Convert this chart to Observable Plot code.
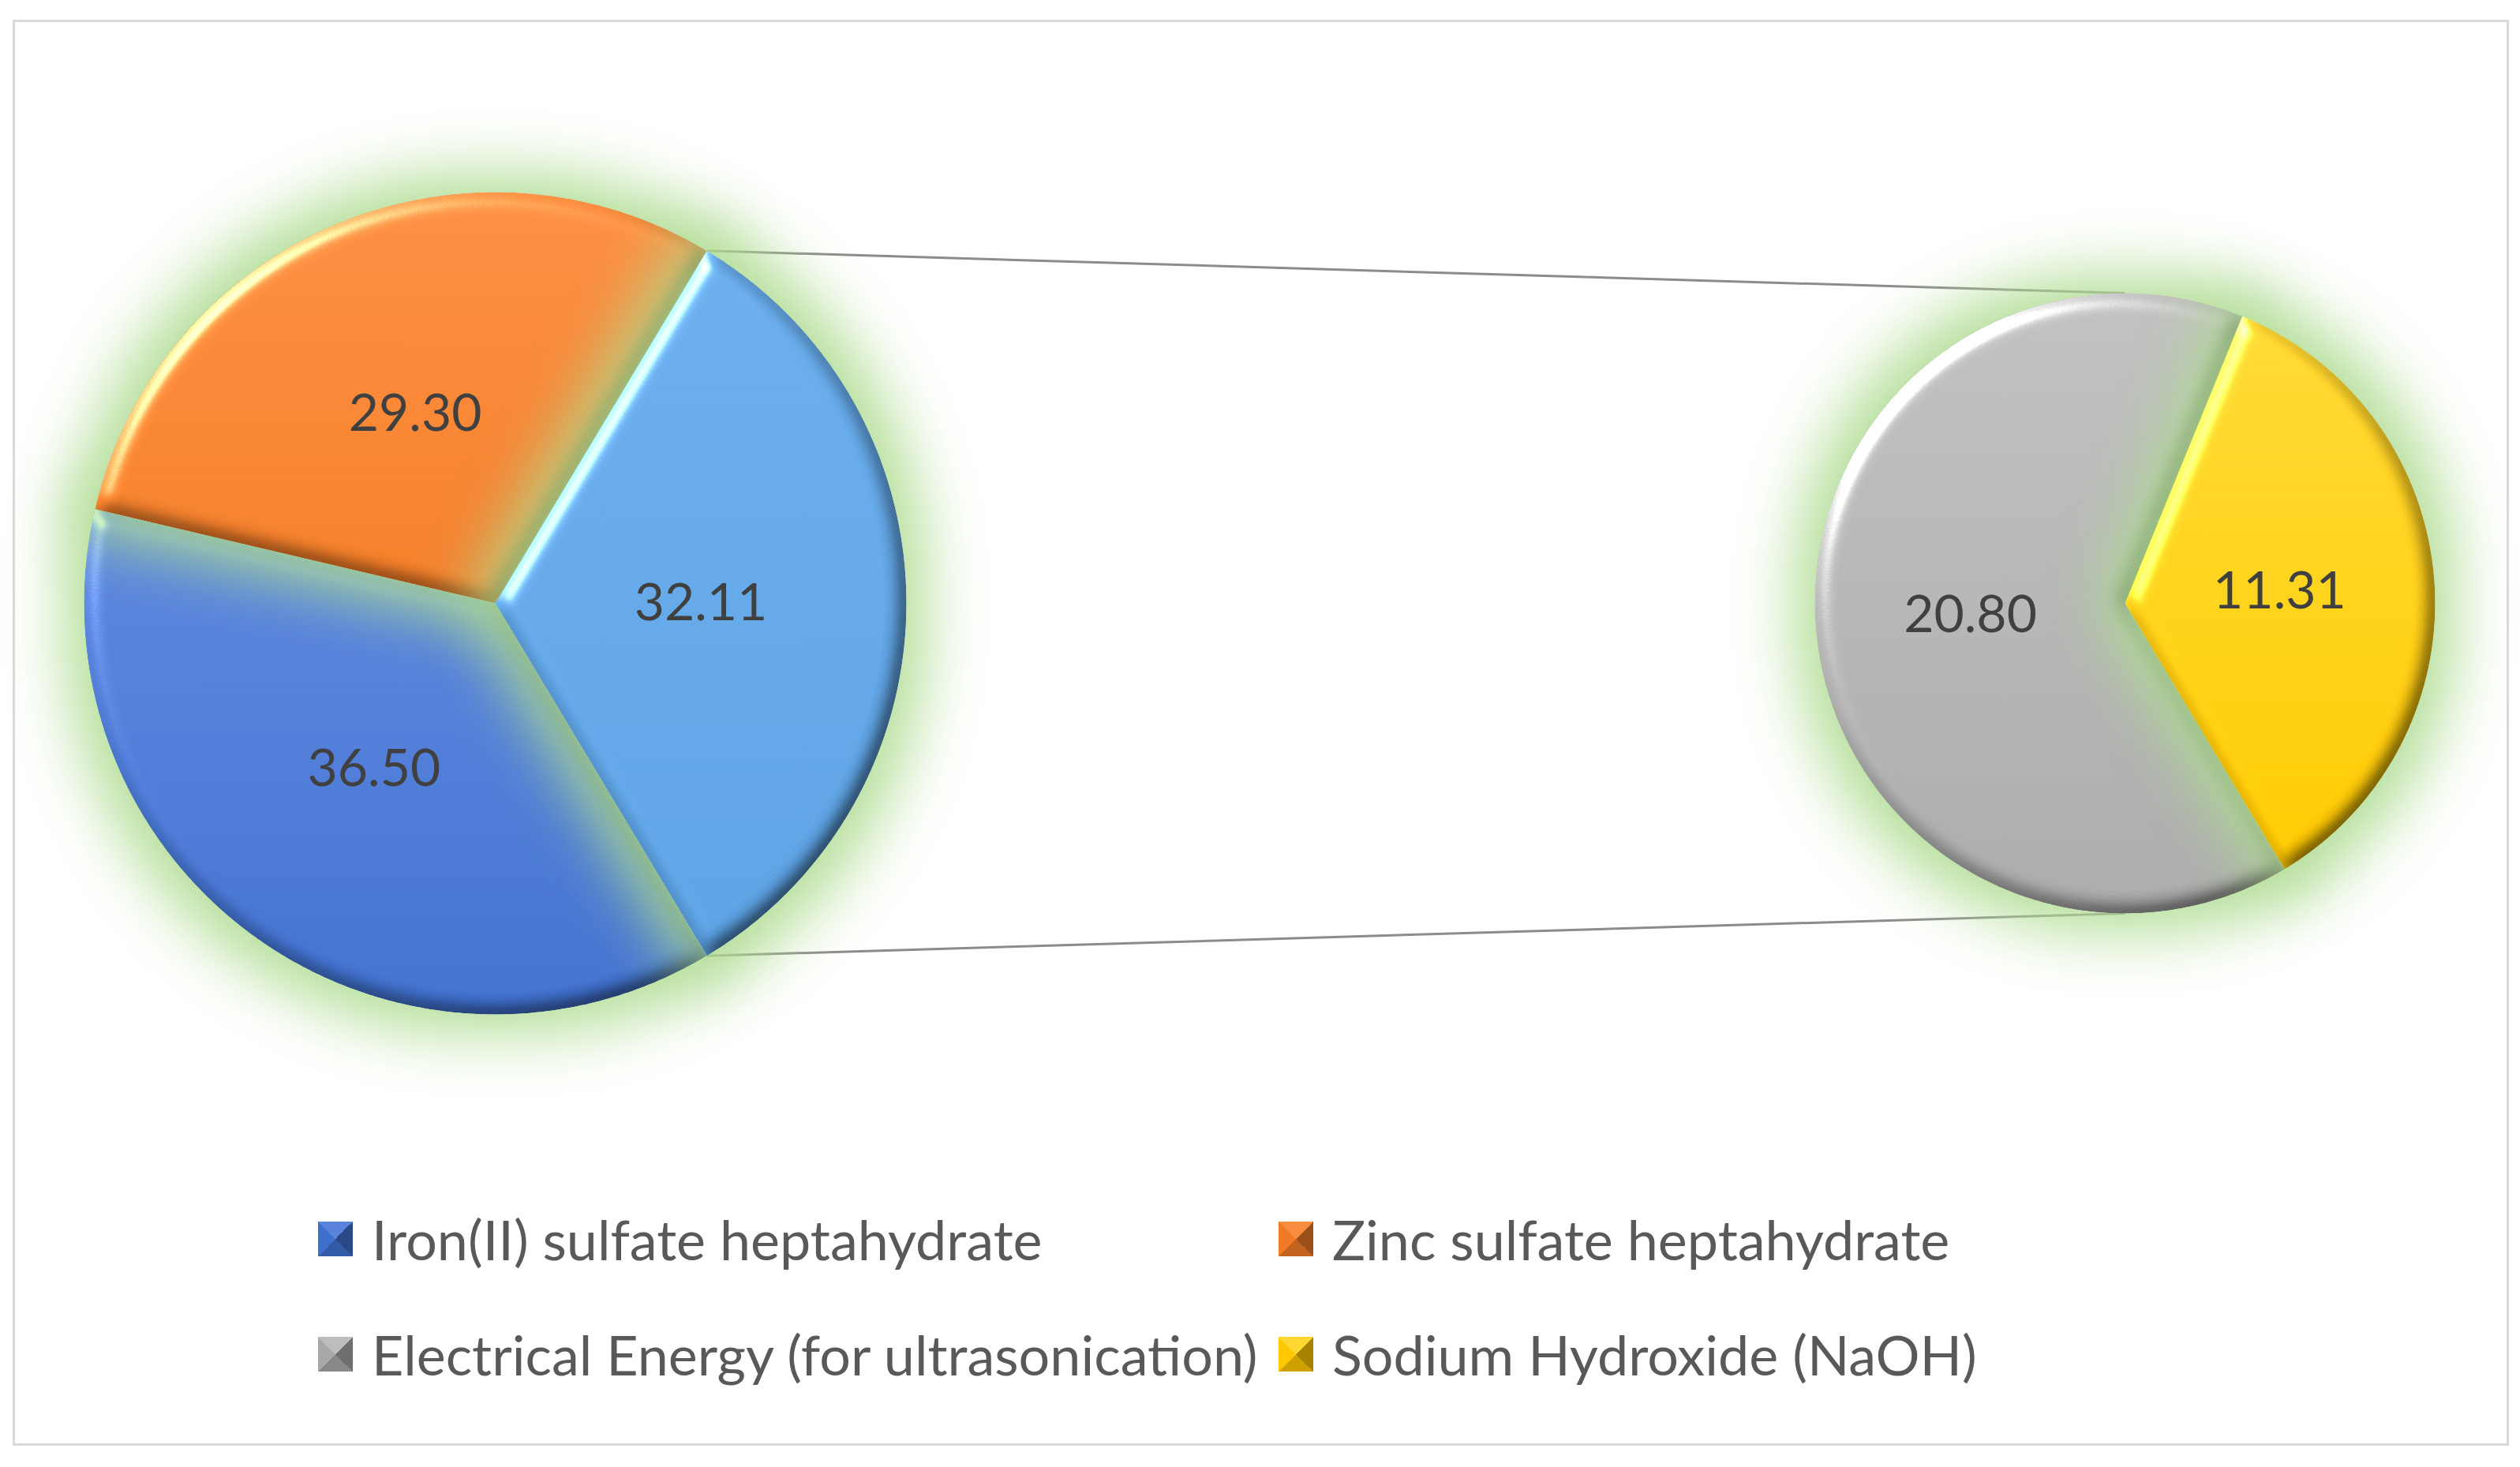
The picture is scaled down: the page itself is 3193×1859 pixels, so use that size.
<!DOCTYPE html>
<html>
<head>
<meta charset="utf-8">
<script src="https://cdn.jsdelivr.net/npm/d3@7"></script>
<script src="https://cdn.jsdelivr.net/npm/@observablehq/plot@0.6"></script>
<style>
  html, body { margin: 0; padding: 0; background: #fff; width: 3193px; height: 1859px; overflow: hidden; }
  #chart { position: absolute; left: 0; top: 0; }
  #frame { position: absolute; left: 16px; top: 25px; width: 3157px; height: 1801px; border: 3px solid #d9d9d9; pointer-events: none; }
  #legend { position: absolute; left: 0; top: 0; font-family: Lato, "Open Sans", sans-serif; color: #595959; }
  .item { position: absolute; display: flex; align-items: center; white-space: nowrap; transform: translateY(-50%); }
  .sw { width: 44px; height: 44px; margin-right: 24px; flex: none; }
</style>
</head>
<body>
<div id="chart"></div>
<div id="legend"></div>
<div id="frame"></div>
<script>
// ---------- data ----------
const mainCategories = ["Iron(II) sulfate heptahydrate", "Zinc sulfate heptahydrate", "Other"];
const mainValues = [36.50, 29.30, 32.11];
const subCategories = ["Electrical Energy (for ultrasonication)", "Sodium Hydroxide (NaOH)"];
const subValues = [20.80, 11.31];
const legendLabels = ["Iron(II) sulfate heptahydrate", "Zinc sulfate heptahydrate",
                      "Electrical Energy (for ultrasonication)", "Sodium Hydroxide (NaOH)"];

// ---------- styles ----------
const allCategories = [...mainCategories, ...subCategories];
const baseColors = ["#3f6fcc", "#f07b26", "#5a9fe0", "#a8a8a8", "#ffc800"];
const topColors  = ["#5a84db", "#f88d40", "#68abe9", "#bdbdbd", "#ffd632"];

// ---------- layout ----------
const W = 3193, H = 1480;
const mainGeo = {cx: 627, cy: 764, r: 521};
const subGeo  = {cx: 2692, cy: 764, r: 393};

const TAU = 2 * Math.PI;
const otherAngle = TAU * mainValues[2] / d3.sum(mainValues);
const start = Math.PI / 2 + otherAngle / 2;   // "Other" slice centred on the right

const pieGen = d3.pie().sort(null).startAngle(start).endAngle(start + TAU);
const mainArcs = pieGen(mainValues);
const subArcs = pieGen(subValues);

function polar(geo, a, rf = 1) {
  return {x: geo.cx + geo.r * rf * Math.sin(a), y: geo.cy - geo.r * rf * Math.cos(a)};
}
function slicePoints(arcs, cats, geo, group) {
  const pts = [];
  arcs.forEach((a, i) => {
    const id = group + i;
    const n = Math.max(8, Math.ceil((a.endAngle - a.startAngle) / (Math.PI / 360)));
    pts.push({slice: id, cat: cats[i], x: geo.cx, y: geo.cy});
    for (let k = 0; k <= n; k++) {
      const t = a.startAngle + (a.endAngle - a.startAngle) * k / n;
      pts.push({slice: id, cat: cats[i], ...polar(geo, t)});
    }
    pts.push({slice: id, cat: cats[i], x: geo.cx, y: geo.cy});
  });
  return pts;
}
const mainPts = slicePoints(mainArcs, mainCategories, mainGeo, "m");
const subPts = slicePoints(subArcs, subCategories, subGeo, "s");

const labels = [
  ...mainArcs.map((a) => ({text: a.value.toFixed(2), ...polar(mainGeo, (a.startAngle + a.endAngle) / 2, 0.5)})),
  ...subArcs.map((a) => ({text: a.value.toFixed(2), ...polar(subGeo, (a.startAngle + a.endAngle) / 2, 0.5)}))
];

const oth = mainArcs[2];
const connectors = [
  {a: polar(mainGeo, oth.startAngle), b: {x: subGeo.cx, y: subGeo.cy - subGeo.r}},
  {a: polar(mainGeo, oth.endAngle),   b: {x: subGeo.cx, y: subGeo.cy + subGeo.r}}
];

const plot = Plot.plot({
  width: W, height: H,
  margin: 0,
  x: {domain: [0, W], axis: null},
  y: {domain: [0, H], reverse: true, axis: null},
  color: {domain: allCategories, range: baseColors},
  marks: [
    Plot.link(connectors, {x1: d => d.a.x, y1: d => d.a.y, x2: d => d.b.x, y2: d => d.b.y,
      stroke: "#8c8c8c", strokeWidth: 3}),
    Plot.line(mainPts, {x: "x", y: "y", z: "slice", fill: "cat", stroke: "none", curve: "linear"}),
    Plot.line(subPts, {x: "x", y: "y", z: "slice", fill: "cat", stroke: "none", curve: "linear"}),
    Plot.text(labels, {x: "x", y: "y", text: "text", fontSize: 66, fontFamily: "Lato, 'Open Sans', sans-serif",
      fill: "#404040", textAnchor: "middle", lineAnchor: "middle"})
  ]
});

// defs: gradients + bevel/glow filter
const svgNS = "http://www.w3.org/2000/svg";
const defs = document.createElementNS(svgNS, "defs");
let defsHtml = "";
allCategories.forEach((_, i) => {
  defsHtml += `<linearGradient id="grad${i}" x1="0" y1="0" x2="0" y2="1"><stop offset="0" stop-color="${topColors[i]}"/><stop offset="1" stop-color="${baseColors[i]}"/></linearGradient>`;
});
defsHtml += `
<filter id="fx" filterUnits="userSpaceOnUse" x="0" y="0" width="${W}" height="${H}" color-interpolation-filters="sRGB">
  <feMorphology in="SourceAlpha" operator="dilate" radius="24" result="dil"/>
  <feGaussianBlur in="dil" stdDeviation="40" result="gb"/>
  <feFlood flood-color="#aedb8f" flood-opacity="0.95" result="gc"/>
  <feComposite in="gc" in2="gb" operator="in" result="glow"/>
  <feGaussianBlur in="SourceAlpha" stdDeviation="11" result="bump"/>
  <feDiffuseLighting in="bump" surfaceScale="9" diffuseConstant="1.155" lighting-color="#ffffff" result="diff">
    <feDistantLight azimuth="225" elevation="60"/>
  </feDiffuseLighting>
  <feComposite in="SourceGraphic" in2="diff" operator="arithmetic" k1="1" k2="0" k3="0" k4="0" result="shaded"/>
  <feSpecularLighting in="bump" surfaceScale="9" specularConstant="0.9" specularExponent="35" lighting-color="#ffffff" result="spec">
    <feDistantLight azimuth="225" elevation="40"/>
  </feSpecularLighting>
  <feComposite in="spec" in2="SourceAlpha" operator="in" result="specIn"/>
  <feComposite in="shaded" in2="specIn" operator="arithmetic" k1="0" k2="1" k3="0.7" k4="0" result="lit"/>
  <feComposite in="lit" in2="SourceAlpha" operator="in" result="litIn"/>
  <feMerge><feMergeNode in="glow"/><feMergeNode in="litIn"/></feMerge>
</filter>`;
defs.innerHTML = defsHtml;
plot.insertBefore(defs, plot.firstChild);
const lineGroups = plot.querySelectorAll('g[aria-label="line"]');
let gi = 0;
lineGroups.forEach((g) => {
  g.querySelectorAll("path").forEach((p) => {
    p.setAttribute("fill", `url(#grad${gi})`);
    p.setAttribute("filter", "url(#fx)");
    gi++;
  });
});

document.getElementById("chart").appendChild(plot);

// ---------- legend (HTML, below the SVG) ----------
const legendColors = [baseColors[0], baseColors[1], baseColors[3], baseColors[4]];
const legendTops = [topColors[0], topColors[1], topColors[3], topColors[4]];
const ctx = document.createElement("canvas").getContext("2d");
ctx.font = "60px Lato";
const fitSize = Math.max(50, Math.min(74, 60 * 1126 / ctx.measureText(legendLabels[2]).width));
const colX = [403, 1620], rowY = [1570, 1716];
const legend = document.getElementById("legend");
legendLabels.forEach((lab, i) => {
  const item = document.createElement("div");
  item.className = "item";
  item.style.left = colX[i % 2] + "px";
  item.style.top = rowY[Math.floor(i / 2)] + "px";
  item.style.fontSize = fitSize + "px";
  const sw = document.createElement("div");
  sw.className = "sw";
  const c = d3.color(legendColors[i]);
  sw.style.background = `conic-gradient(from -45deg, ${legendTops[i]} 0 25%, ${c.darker(1.2)} 25% 50%, ${c.darker(0.6)} 50% 75%, ${legendColors[i]} 75% 100%)`;
  const tx = document.createElement("span");
  tx.textContent = lab;
  item.appendChild(sw);
  item.appendChild(tx);
  legend.appendChild(item);
});
</script>
</body>
</html>
